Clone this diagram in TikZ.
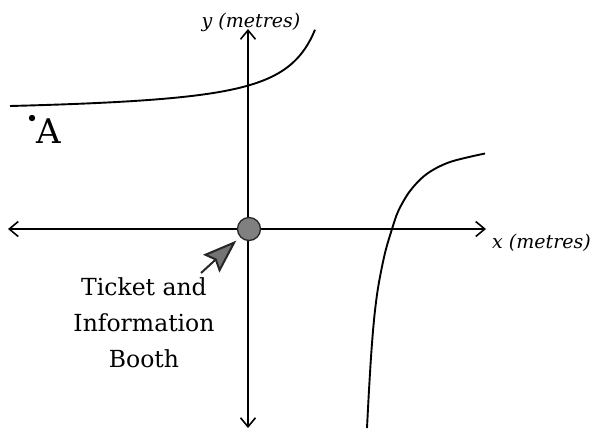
\documentclass[tikz,border=0pt]{standalone}
\usepackage{fontspec}
\newfontfamily\dvs{DejaVu Serif}
\usetikzlibrary{arrows.meta}
\tikzset{
  axis/.style={line width=1.9pt, {Straight Barb[length=9pt,width=15pt,line width=1.6pt]}-{Straight Barb[length=9pt,width=15pt,line width=1.6pt]}},
  curve/.style={line width=1.9pt},
  axlabel/.style={font=\dvs\itshape\fontsize{19}{22}\selectfont, inner sep=0pt},
}
\begin{document}
\begin{tikzpicture}[x=1pt,y=-1pt]
\useasboundingbox (0,0) rectangle (594,432);
% axes
\coordinate (xl) at (8,229);
\coordinate (xr) at (486,229);
\coordinate (yt) at (248,29);
\coordinate (yb) at (248,428);
\draw[axis] (xl) -- (xr);
\draw[axis] (yb) -- (yt);
% curves (two branches)
\draw[curve] plot[domain=10:315, samples=120, variable=\t] ({\t},{114.75-2975/(350-\t)});
\draw[curve] plot[smooth, tension=0.55] coordinates {(367,428) (369,390) (371.5,350) (374.5,315) (378.5,285) (385,253) (391.7,230) (398.3,211) (410,191) (426.7,174) (450,162) (485,153.5)};
% booth
\node[circle, draw=black!85, line width=1.3pt, fill=black!50, minimum size=23pt, inner sep=0pt] (booth) at (249,229) {};
\coordinate (ptail) at (201,273);
\draw[line width=2pt, black!85, -{Stealth[length=34pt,width=24pt,inset=5pt,fill=black!55]}, shorten >=5pt] (ptail) -- (booth);
% labels
\node[axlabel, anchor=base] (ylab) at (251,27) {y (metres)};
\node[axlabel, anchor=base west] (xlab) at (492,248) {x (metres)};
\node[font=\dvs\fontsize{23.5}{36}\selectfont, align=center, inner sep=0pt, anchor=north] (blab) at (144,277) {Ticket and\\Information\\Booth};
\node[font=\dvs\fontsize{34}{40}\selectfont, inner sep=0pt, anchor=base west] (A) at (36,143) {A};
\fill (32,118) circle (3.2);
\end{tikzpicture}
\end{document}
